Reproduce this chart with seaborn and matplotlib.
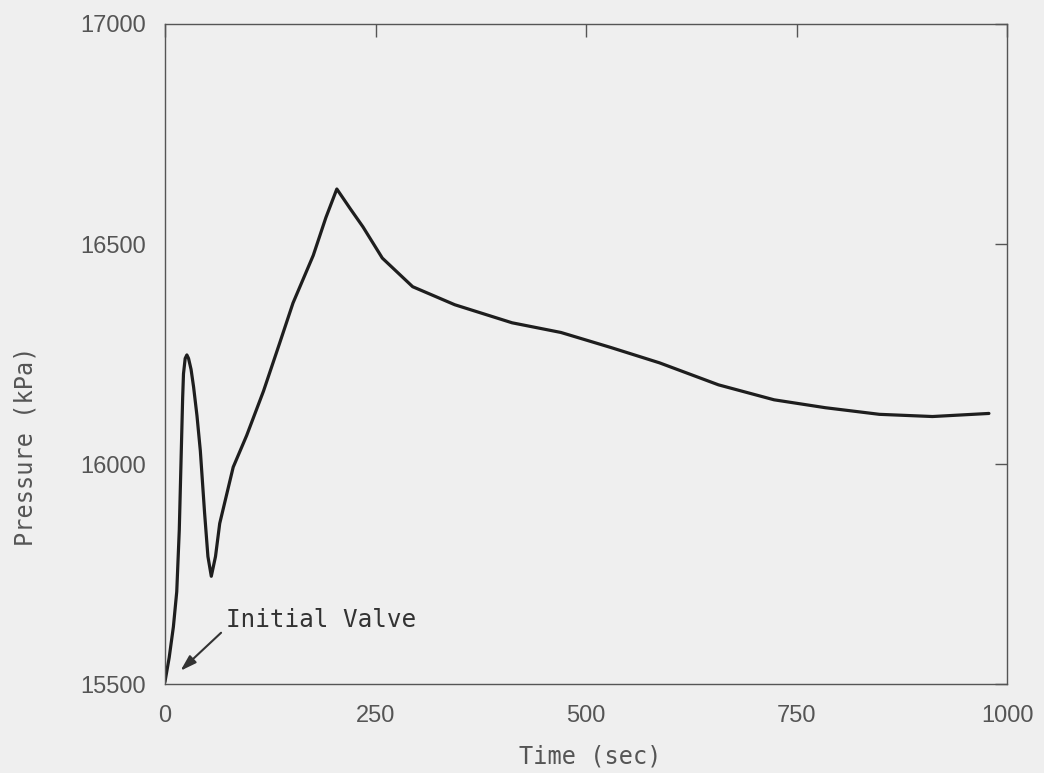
import numpy as np
import pandas as pd
import matplotlib
matplotlib.use("Agg")
import matplotlib.pyplot as plt
import seaborn as sns

# ==========================================
# data
# ==========================================
time_sec = [0, 5, 10, 14, 17, 19, 21, 22, 24, 26, 28, 31, 34, 38, 42, 47, 51,
            55, 60, 65, 81, 97, 117, 136, 152, 176, 191, 204, 220, 235, 258,
            294, 344, 412, 470, 529, 587, 657, 723, 784, 848, 911, 978]
pressure_kpa = [15505, 15560, 15630, 15710, 15850, 16000, 16150, 16205, 16240,
                16248, 16240, 16215, 16175, 16110, 16030, 15890, 15790,
                15745, 15790, 15865, 15993, 16065, 16166, 16274, 16366,
                16474, 16560, 16625, 16580, 16539, 16468, 16403, 16362,
                16321, 16299, 16265, 16230, 16180, 16146, 16128, 16113,
                16108, 16115]

x_ticks = [0, 250, 500, 750, 1000]
y_ticks = [15500, 16000, 16500, 17000]

# annotation: arrow head, arrow tail, text anchor
note_text = "Initial Valve"
note_head = (16, 15526)
note_tail = (69, 15621)
note_pos = (73, 15645)

df = pd.DataFrame({"Time": time_sec, "Pressure": pressure_kpa})

sns.set_theme(style="white")
plt.rcParams["font.family"] = ["Liberation Sans", "DejaVu Sans"]

paper = "#efefef"
ink = "#555555"

fig = plt.figure(figsize=(10.44, 7.73), dpi=100, facecolor=paper)
ax = fig.add_axes([0.158, 0.115, 0.807, 0.854], facecolor=paper)

sns.lineplot(data=df, x="Time", y="Pressure", ax=ax, estimator=None,
             color="#1e1e1e", linewidth=2.3)

ax.set_xlim(0, 1000)
ax.set_ylim(15500, 17000)
ax.set_xticks(x_ticks)
ax.set_yticks(y_ticks)
ax.tick_params(direction="in", length=9, width=1.0, color=ink,
               top=True, right=True, labelsize=17, labelcolor=ink)
ax.tick_params(axis="x", pad=15)
ax.tick_params(axis="y", pad=14)

for side in ax.spines.values():
    side.set_color(ink)
    side.set_linewidth(1.0)

ax.set_xlabel("Time (sec)", family="DejaVu Sans Mono", fontsize=17, color=ink)
ax.set_ylabel("Pressure (kPa)", family="DejaVu Sans Mono", fontsize=17, color=ink)
ax.xaxis.label.set_va("center")
ax.yaxis.label.set_va("center")
ax.xaxis.set_label_coords(0.505, -0.11)
ax.yaxis.set_label_coords(-0.166, 0.36)

ax.annotate("", xy=note_head, xytext=note_tail,
            arrowprops=dict(arrowstyle="-|>,head_length=0.8,head_width=0.25",
                            color="#333333", lw=1.5))
ax.text(note_pos[0], note_pos[1], note_text, family="DejaVu Sans Mono",
        fontsize=17.5, color="#333333", va="center", ha="left")

plt.savefig("out.png", dpi=100, facecolor=paper)
